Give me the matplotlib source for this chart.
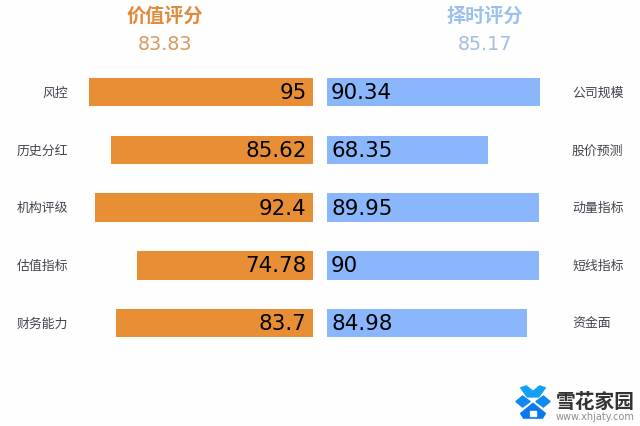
# two sided score bars

import matplotlib
matplotlib.use('Agg')
import matplotlib.pyplot as plt
from matplotlib.patches import Polygon

plt.rcParams['font.family'] = ['Noto Sans CJK SC', 'DejaVu Sans']

left_labels = ['风控', '历史分红', '机构评级', '估值指标', '财务能力']
left_values = [95, 85.62, 92.4, 74.78, 83.7]
right_labels = ['公司规模', '股价预测', '动量指标', '短线指标', '资金面']
right_values = [90.34, 68.35, 89.95, 90, 84.98]
left_title = '价值评分'
left_score = '83.83'
right_title = '择时评分'
right_score = '85.17'

W, H = 640, 427
orange = '#E88F36'
blue = '#8AB7FC'
px_per_unit = 2.358
row = 57.7
top_row = 93.2

fig = plt.figure(figsize=(6.4, 4.27), dpi=100)
fig.patch.set_facecolor('#FEFEFE')

ax_l = fig.add_axes([0, 0, 313 / W, 1])
ax_r = fig.add_axes([327 / W, 0, (W - 327) / W, 1])

ypos = list(range(len(left_values)))
ax_l.barh(ypos, left_values, height=28.5 / row, color=orange)
ax_r.barh(ypos, right_values, height=28.5 / row, color=blue)

ax_l.set_xlim(313 / px_per_unit, 0)
ax_r.set_xlim(0, (W - 327) / px_per_unit)

for ax in (ax_l, ax_r):
    ax.set_ylim((H - top_row) / row, -top_row / row)
    ax.axis('off')
    ax.patch.set_alpha(0)

for y, v in zip(ypos, left_values):
    ax_l.text(2.8, y, str(v), ha='right', va='center', fontsize=15.4,
              color='black', family='DejaVu Sans')
for y, v in zip(ypos, right_values):
    ax_r.text(1.7, y, str(v), ha='left', va='center', fontsize=15.4,
              color='black', family='DejaVu Sans')

# row names
for y, s in zip(ypos, left_labels):
    ax_l.text((313 - 68) / px_per_unit, y, s, ha='right', va='center',
              fontsize=9.3, color='#444450')
for y, s in zip(ypos, right_labels):
    ax_r.text((572 - 327) / px_per_unit, y, s, ha='left', va='center',
              fontsize=9.3, color='#444450')

# headers
fig.text(165 / W, 1 - 16 / H, left_title, ha='center', va='center', fontsize=13.8,
         fontweight='bold', color='#E08A3C')
fig.text(165 / W, 1 - 44.5 / H, left_score, ha='center', va='center', fontsize=13.8,
         color='#D89A60', family='DejaVu Sans')
fig.text(485 / W, 1 - 16 / H, right_title, ha='center', va='center', fontsize=13.8,
         fontweight='bold', color='#9CC0EE')
fig.text(485 / W, 1 - 44.5 / H, right_score, ha='center', va='center', fontsize=13.8,
         color='#A3BEE0', family='DejaVu Sans')

# watermark
logo = fig.add_axes([514 / W, 1 - 420 / H, 38 / W, 34 / H])
logo.set_xlim(0, 40)
logo.set_ylim(37, 0)
logo.axis('off')
logo.patch.set_alpha(0)
logo.add_patch(Polygon([[7, 3], [13, 1], [20, 7], [27, 1], [33, 3], [26, 13], [14, 13]], color='#12A0F5'))
logo.add_patch(Polygon([[2, 18], [9, 12], [17, 18], [9, 24]], color='#1088F2'))
logo.add_patch(Polygon([[23, 18], [31, 12], [38, 18], [31, 24]], color='#1088F2'))
logo.add_patch(Polygon([[20, 20], [33, 31], [30, 36], [10, 36], [7, 31]], color='#0A78EE'))
logo.add_patch(Polygon([[17, 28], [23, 28], [23, 34], [17, 34]], color='white'))

fig.text(556 / W, 1 - 402 / H, '雪花家园', ha='left', va='center', fontsize=14.2,
         fontweight='bold', color='#333333')
fig.text(556 / W, 1 - 417 / H, 'www.xhjaty.com', ha='left', va='center', fontsize=7,
         color='#8E8E8E', family='DejaVu Sans')

fig.savefig('out.png', dpi=100, facecolor=fig.get_facecolor())
